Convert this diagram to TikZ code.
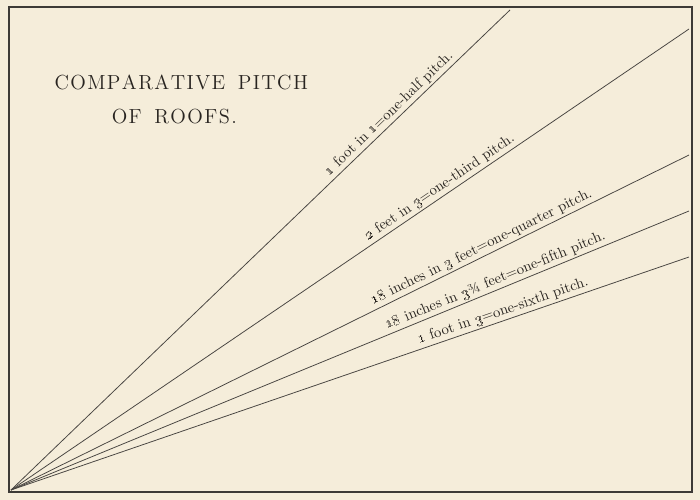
\documentclass[tikz,border=0pt]{standalone}
\usepackage{amsmath}
\usepackage{tikz}
\definecolor{paper}{RGB}{245,237,218}
\definecolor{ink}{RGB}{40,36,32}
\makeatletter
\newcommand\spacedcaps[1]{\@tfor\sc@ch:=#1\do{\sc@ch\kern1pt}}
\makeatother

\begin{document}
\begin{tikzpicture}[x=0.025cm, y=-0.025cm,
		frame_style/.style={draw=ink!90, line width=0.9pt},
		pitch_line/.style={draw=ink!85, line width=0.55pt},
		pitch_label/.style={sloped, above, inner sep=1.5pt, text=ink, font=\fontsize{10.5pt}{12pt}\selectfont},
		title_style/.style={text=ink, font=\fontsize{14.5pt}{17pt}\selectfont}]

		\fill[paper] (0,0) rectangle (700,500);
		\draw[frame_style] (9,7) rectangle (692,492);

		\node[title_style] (t1) at (182,82) {\spacedcaps{COMPARATIVE}\hspace{0.55em}\spacedcaps{PITCH}};
		\node[title_style] (t2) at (175,117) {\spacedcaps{OF}\hspace{0.55em}\spacedcaps{ROOFS.}};

		\coordinate (o) at (11,490);
		\coordinate (p2) at (510,10);
		\coordinate (p3) at (689,29);
		\coordinate (p4) at (689,155);
		\coordinate (p5) at (689,211);
		\coordinate (p6) at (689,257);

		\draw[pitch_line] (o) -- node[pitch_label, pos=0.77] (l2) {\oldstylenums{1} foot in \oldstylenums{1}=one-half pitch.} (p2);
		\draw[pitch_line] (o) -- node[pitch_label, pos=0.64] (l3) {\oldstylenums{2} feet in \oldstylenums{3}=one-third pitch.} (p3);
		\draw[pitch_line] (o) -- node[pitch_label, pos=0.70] (l4) {\oldstylenums{18} inches in \oldstylenums{3} feet=one-quarter pitch.} (p4);
		\draw[pitch_line] (o) -- node[pitch_label, pos=0.72] (l5) {\oldstylenums{18} inches in \oldstylenums{3}¾ feet=one-fifth pitch.} (p5);
		\draw[pitch_line] (o) -- node[pitch_label, pos=0.73] (l6) {\oldstylenums{1} foot in \oldstylenums{3}=one-sixth pitch.} (p6);
\end{tikzpicture}
\end{document}
